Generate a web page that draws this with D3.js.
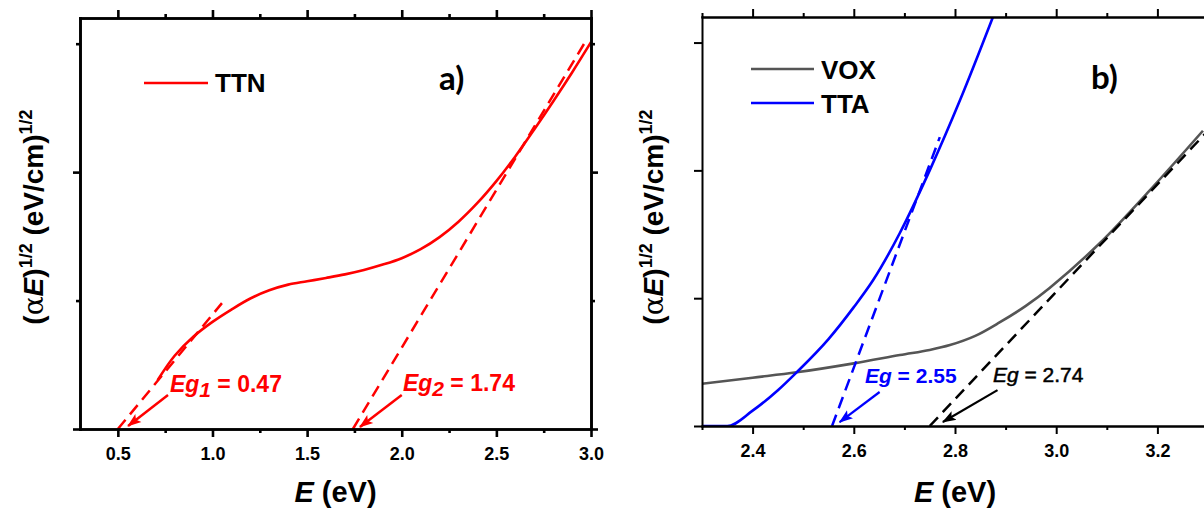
<!DOCTYPE html>
<html>
<head>
<meta charset="utf-8">
<script src="https://cdn.jsdelivr.net/npm/d3@7"></script>
<style>
  body { margin: 0; background: #fff; }
  svg { display: block; font-family: "Liberation Sans", Arial, sans-serif; }
</style>
</head>
<body>
<svg id="chart" width="1204" height="514"></svg>
<script>
// ---- panel a) TTN ----
var ttnE = [0.71, 0.8, 0.9, 1.0, 1.1, 1.2, 1.3, 1.4, 1.5, 1.6, 1.7, 1.8, 1.9, 2.0, 2.1, 2.2, 2.3, 2.4, 2.5, 2.6, 2.7, 2.8, 2.9, 3.0];
var ttnY = [0.19, 0.285, 0.36, 0.417, 0.465, 0.508, 0.54, 0.562, 0.575, 0.588, 0.602, 0.619, 0.64, 0.665, 0.70, 0.747, 0.807, 0.88, 0.965, 1.061, 1.166, 1.275, 1.388, 1.506];
var ttnFit1E = [0.5, 1.05], ttnFit1Y = [0, 0.49];
var ttnFit2E = [1.742, 2.98], ttnFit2Y = [0, 1.52];
var xTicksA = [0.5, 1.0, 1.5, 2.0, 2.5, 3.0];
var xMinorA = [0.75, 1.25, 1.75, 2.25, 2.75];
var yTicksA = [0, 1];
var yMinorA = [0.5, 1.5];

// ---- panel b) VOX / TTA ----
var voxE = [2.3, 2.4, 2.487, 2.6, 2.691, 2.75, 2.79, 2.84, 2.888, 2.94, 2.987, 3.086, 3.184, 3.29];
var voxY = [0.33, 0.378, 0.42, 0.49, 0.555, 0.595, 0.633, 0.705, 0.81, 0.94, 1.08, 1.43, 1.84, 2.31];
var ttaE = [2.3, 2.35, 2.4, 2.45, 2.487, 2.55, 2.6, 2.638, 2.691, 2.75, 2.81, 2.875];
var ttaY = [0, 0, 0.12, 0.28, 0.42, 0.68, 0.93, 1.14, 1.51, 2.0, 2.55, 3.2];
var ttaFitE = [2.557, 2.77], ttaFitY = [0, 2.26];
var voxFitE = [2.75, 3.3], voxFitY = [0, 2.31];
var xTicksB = [2.4, 2.6, 2.8, 3.0, 3.2];
var xMinorB = [2.3, 2.5, 2.7, 2.9, 3.1, 3.3];
var yTicksB = [0, 1, 2, 3];

// band gap notes: label spot, arrow tail, arrow head (data units)
var egA = [
  {name: "1", val: "0.47", at: [0.775, 0.144], from: [0.765, 0.132], to: [0.554, 0.012]},
  {name: "2", val: "1.74", at: [2.006, 0.148], from: [2.0, 0.132], to: [1.779, 0.008]}
];
var egB = [
  {val: "2.55", color: "#0000ff", bold: true, at: [2.622, 0.336], from: [2.651, 0.266], to: [2.572, 0.031]},
  {val: "2.74", color: "#000000", bold: false, at: [2.875, 0.344], from: [2.884, 0.281], to: [2.776, 0.031]}
];

var svg = d3.select("#chart");
var defs = svg.append("defs");

function marker(id, color) {
  defs.append("marker").attr("id", id)
    .attr("markerUnits", "userSpaceOnUse")
    .attr("viewBox", "0 -6 14 12").attr("refX", 13).attr("refY", 0)
    .attr("markerWidth", 14).attr("markerHeight", 12).attr("orient", "auto")
    .append("path").attr("d", "M0,-5L14,0L0,5L3,0Z").attr("fill", color);
}
marker("arR", "#ff0000");
marker("arB", "#0000ff");
marker("arK", "#000000");

function frame(g, x, y, o) {
  var w = o.sw;
  var axes = [
    [d3.axisBottom(x).tickValues(o.xt).tickSize(8).tickPadding(10).tickFormat(d3.format(".1f")), y.range()[0]],
    [d3.axisBottom(x).tickValues(o.xm).tickSize(4).tickFormat(""), y.range()[0]],
    [d3.axisTop(x).tickValues(o.xt).tickSize(8).tickFormat(""), y.range()[1]],
    [d3.axisTop(x).tickValues(o.xm).tickSize(4).tickFormat(""), y.range()[1]]
  ];
  axes.forEach(function(a) {
    g.append("g").attr("transform", "translate(0," + a[1] + ")").call(a[0].tickSizeOuter(0));
  });
  var vax = [
    [d3.axisLeft(y).tickValues(o.yt).tickSize(o.ytLen).tickFormat(""), x.range()[0]],
    [d3.axisRight(y).tickValues(o.yt).tickSize(o.ytLen).tickFormat(""), x.range()[1]]
  ];
  if (o.ym) {
    vax.push([d3.axisLeft(y).tickValues(o.ym).tickSize(4).tickFormat(""), x.range()[0]]);
    vax.push([d3.axisRight(y).tickValues(o.ym).tickSize(4).tickFormat(""), x.range()[1]]);
  }
  vax.forEach(function(a) {
    g.append("g").attr("transform", "translate(" + a[1] + ",0)").call(a[0].tickSizeOuter(0));
  });
  g.selectAll(".domain").attr("stroke", "#000").attr("stroke-width", w).attr("stroke-linecap", "square");
  g.selectAll(".tick line").attr("stroke", "#000").attr("stroke-width", w);
  g.selectAll(".tick text").attr("fill", "#000").style("font-size", "18px").style("font-weight", "bold")
    .style("font-family", "'Liberation Sans', Arial, sans-serif");

  // x title
  var xl = g.append("text").attr("x", (x.range()[0] + x.range()[1]) / 2).attr("y", 502)
    .attr("text-anchor", "middle").style("font-size", "29px").style("font-weight", "bold");
  xl.append("tspan").style("font-style", "italic").text("E");
  xl.append("tspan").text(" (eV)");

  // y title
  var yl = g.append("text").attr("transform", "translate(" + o.ylx + ",217) rotate(-90)")
    .attr("text-anchor", "middle").style("font-size", "28px").style("font-weight", "bold");
  yl.append("tspan").text("(");
  yl.append("tspan").style("font-weight", "normal").style("font-family", "'DejaVu Serif', serif").text("α");
  yl.append("tspan").style("font-style", "italic").text("E");
  yl.append("tspan").text(")");
  yl.append("tspan").attr("dy", -11).style("font-size", "18px").text("1/2");
  yl.append("tspan").attr("dy", 11).text(" (eV/cm)");
  yl.append("tspan").attr("dy", -11).style("font-size", "18px").text("1/2");
}

function pairs(xs, ys) { return xs.map(function(v, i) { return [v, ys[i]]; }); }

// ================= panel a =================
var xA = d3.scaleLinear().domain([0.3, 3.0]).range([80, 591]);
var yA = d3.scaleLinear().domain([0, 1.6]).range([429, 18]);
var gA = svg.append("g");
var lineA = d3.line().x(function(d) { return xA(d[0]); }).y(function(d) { return yA(d[1]); });

[[ttnFit1E, ttnFit1Y], [ttnFit2E, ttnFit2Y]].forEach(function(f) {
  gA.append("path").attr("d", lineA(pairs(f[0], f[1]))).attr("fill", "none")
    .attr("stroke", "#ff0000").attr("stroke-width", 2.5).attr("stroke-dasharray", "12,7");
});
gA.append("path").attr("d", lineA.curve(d3.curveCatmullRom)(pairs(ttnE, ttnY)))
  .attr("fill", "none").attr("stroke", "#ff0000").attr("stroke-width", 2.6);

egA.forEach(function(e) {
  gA.append("line").attr("x1", xA(e.from[0])).attr("y1", yA(e.from[1]))
    .attr("x2", xA(e.to[0])).attr("y2", yA(e.to[1]))
    .attr("stroke", "#ff0000").attr("stroke-width", 2.5).attr("marker-end", "url(#arR)");
  var t = gA.append("text").attr("x", xA(e.at[0])).attr("y", yA(e.at[1]))
    .attr("fill", "#ff0000").style("font-size", "23px").style("font-weight", "bold");
  t.append("tspan").style("font-style", "italic").text("Eg");
  t.append("tspan").style("font-style", "italic").style("font-size", "21px").attr("dy", 5).text(e.name);
  t.append("tspan").attr("dy", -5).text(" = " + e.val);
});

frame(gA, xA, yA, {sw: 2.6, xt: xTicksA, xm: xMinorA, yt: yTicksA, ym: yMinorA, ytLen: 7, ylx: 43});

// legend a
gA.append("line").attr("x1", 144).attr("x2", 208).attr("y1", 83).attr("y2", 83)
  .attr("stroke", "#ff0000").attr("stroke-width", 2.6);
gA.append("text").attr("x", 215).attr("y", 92).text("TTN")
  .style("font-size", "26px").style("font-weight", "bold");
gA.append("text").attr("x", 439).attr("y", 90).text("a)")
  .style("font-family", "Lato, sans-serif").style("font-size", "33px").style("font-weight", "bold");

// ================= panel b =================
var xB = d3.scaleLinear().domain([2.3, 3.3]).range([702, 1208]);
var yB = d3.scaleLinear().domain([0, 3.2]).range([426, 17]);
var gB = svg.append("g");
defs.append("clipPath").attr("id", "clipB").append("rect")
  .attr("x", 702).attr("y", 17).attr("width", 506).attr("height", 409);
var plotB = gB.append("g").attr("clip-path", "url(#clipB)");
var lineB = d3.line().x(function(d) { return xB(d[0]); }).y(function(d) { return yB(d[1]); });

plotB.append("path").attr("d", lineB.curve(d3.curveCatmullRom)(pairs(voxE, voxY)))
  .attr("fill", "none").attr("stroke", "#555555").attr("stroke-width", 2.6);
plotB.append("path").attr("d", lineB.curve(d3.curveMonotoneX)(pairs(ttaE, ttaY)))
  .attr("fill", "none").attr("stroke", "#0000ff").attr("stroke-width", 2.6);
lineB.curve(d3.curveLinear);
plotB.append("path").attr("d", lineB(pairs(voxFitE, voxFitY))).attr("fill", "none")
  .attr("stroke", "#000").attr("stroke-width", 2.5).attr("stroke-dasharray", "12,7");
plotB.append("path").attr("d", lineB(pairs(ttaFitE, ttaFitY))).attr("fill", "none")
  .attr("stroke", "#0000ff").attr("stroke-width", 2.5).attr("stroke-dasharray", "12,7");

egB.forEach(function(e) {
  gB.append("line").attr("x1", xB(e.from[0])).attr("y1", yB(e.from[1]))
    .attr("x2", xB(e.to[0])).attr("y2", yB(e.to[1]))
    .attr("stroke", e.color).attr("stroke-width", 2.2)
    .attr("marker-end", e.bold ? "url(#arB)" : "url(#arK)");
  var t = gB.append("text").attr("x", xB(e.at[0])).attr("y", yB(e.at[1]))
    .attr("fill", e.color).style("font-size", "21px").style("font-weight", e.bold ? "bold" : "normal");
  if (!e.bold) t.attr("stroke", e.color).attr("stroke-width", 0.5);
  t.append("tspan").style("font-style", "italic").text("Eg");
  t.append("tspan").text(" = " + e.val);
});

frame(gB, xB, yB, {sw: 2, xt: xTicksB, xm: xMinorB, yt: yTicksB, ym: null, ytLen: 8, ylx: 663});

// legend b
[["VOX", "#555555", 69], ["TTA", "#0000ff", 103]].forEach(function(l) {
  gB.append("line").attr("x1", 751).attr("x2", 814).attr("y1", l[2]).attr("y2", l[2])
    .attr("stroke", l[1]).attr("stroke-width", 2.6);
  gB.append("text").attr("x", 821).attr("y", l[2] + 10).text(l[0])
    .style("font-size", "26px").style("font-weight", "bold");
});
gB.append("text").attr("x", 1091).attr("y", 89).text("b)")
  .style("font-family", "Lato, sans-serif").style("font-size", "33px").style("font-weight", "bold");
</script>
</body>
</html>
